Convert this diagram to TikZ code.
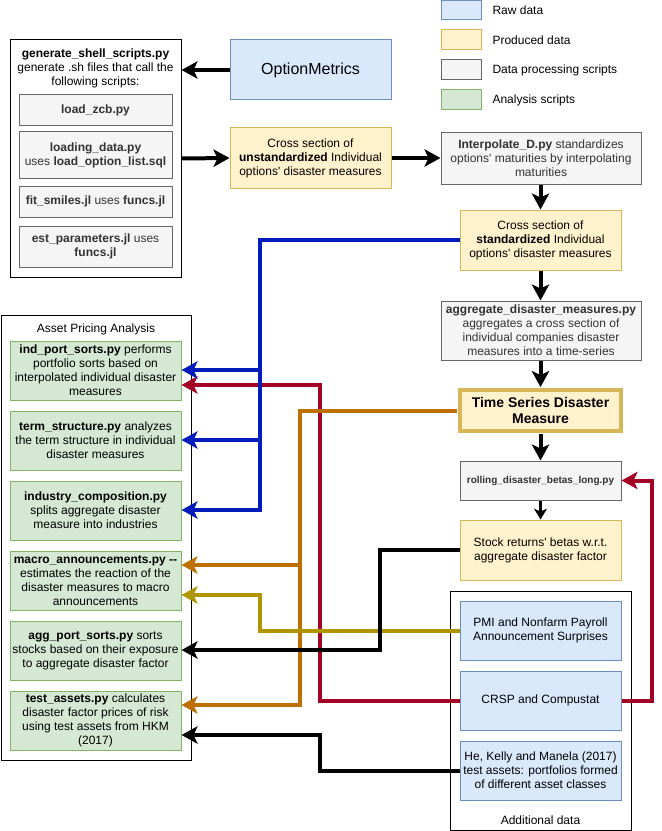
\documentclass[tikz,border=0pt]{standalone}
\usepackage{fontspec}
\newfontfamily\hv{Liberation Sans}
\usetikzlibrary{arrows.meta}
\definecolor{rawF}{HTML}{DAE8FC}\definecolor{rawD}{HTML}{6C8EBF}
\definecolor{proF}{HTML}{FFF2CC}\definecolor{proD}{HTML}{D6B656}
\definecolor{scrF}{HTML}{F5F5F5}\definecolor{scrD}{HTML}{666666}\definecolor{scrT}{HTML}{333333}
\definecolor{anaF}{HTML}{D5E8D4}\definecolor{anaD}{HTML}{82B366}
\definecolor{lblue}{HTML}{001DBC}\definecolor{lred}{HTML}{A20025}
\definecolor{lorange}{HTML}{BD7000}\definecolor{lolive}{HTML}{B09500}
\tikzset{
 base/.style={font=\hv\fontsize{9}{10.5}\selectfont, align=center, inner sep=0pt, line width=0.75pt},
 sz/.style 2 args={minimum width=#1*0.75pt, minimum height=#2*0.75pt},
 raw/.style={base, draw=rawD, fill=rawF},
 pro/.style={base, draw=proD, fill=proF},
 scr/.style={base, draw=scrD, fill=scrF, text=scrT},
 ana/.style={base, draw=anaD, fill=anaF},
 grp/.style={base, draw=black, fill=white},
 lab/.style={base},
 conn/.style={line width=3pt, -{Stealth[length=12pt,width=13pt,inset=3pt]}},
 thinconn/.style={line width=1.6pt, -{Stealth[length=8pt,width=9.5pt,inset=2pt]}},
}
\begin{document}
\begin{tikzpicture}[x=0.75pt,y=-0.75pt]
\useasboundingbox[fill=white] (0,0) rectangle (661,831);

% legend
\node[raw, sz={40}{19}] (lg1) at (461,10.5) {};
\node[pro, sz={40}{20}] (lg2) at (461,40) {};
\node[scr, sz={40}{20}] (lg3) at (461,70) {};
\node[ana, sz={40}{20}] (lg4) at (461,100) {};
\node[lab, anchor=west] (lt1) at (492,10.5) {Raw data};
\node[lab, anchor=west] (lt2) at (492,40) {Produced data};
\node[lab, anchor=west] (lt3) at (492,70) {Data processing scripts};
\node[lab, anchor=west] (lt4) at (492,100) {Analysis scripts};

% shell scripts group
\node[grp, sz={171}{237}] (gen) at (95.5,158.5) {};
\node[lab] (gent) at (95.5,68.5) {\textbf{generate\_shell\_scripts.py}\\generate .sh files that call the\\following scripts:};
\node[scr, sz={153}{31}] (zcb) at (95.5,110.5) {\textbf{load\_zcb.py}};
\node[scr, sz={153}{46}] (load) at (95.5,155) {\textbf{loading\_data.py}\\uses \textbf{load\_option\_list.sql}};
\node[scr, sz={153}{31}] (fit) at (95.5,201.5) {\textbf{fit\_smiles.jl} uses \textbf{funcs.jl}};
\node[scr, sz={153}{41}] (est) at (95.5,246.5) {\textbf{est\_parameters.jl} uses\\\textbf{funcs.jl}};

% main column
\node[raw, sz={161}{60}, font=\hv\fontsize{12}{14}\selectfont] (om) at (310.5,70) {OptionMetrics};
\node[pro, sz={161}{60}] (unstd) at (310.5,158) {Cross section of\\\textbf{unstandardized} Individual\\options' disaster measures};
\node[scr, sz={200}{51}] (interp) at (541,158.5) {\textbf{Interpolate\_D.py} standardizes\\options' maturities by interpolating\\maturities};
\node[pro, sz={161}{60}] (std) at (540.5,240) {Cross section of\\\textbf{standardized} Individual\\options' disaster measures};
\node[scr, sz={200}{59}] (agg) at (541,330.5) {\textbf{aggregate\_disaster\_measures.py}\\aggregates a cross section of\\individual companies disaster\\measures into a time-series};
\node[pro, sz={161}{41}, line width=2.6pt, font=\hv\bfseries\fontsize{10.5}{12}\selectfont] (ts) at (540.5,410.5) {Time Series Disaster\\Measure};
\node[scr, sz={161}{39}, font=\hv\bfseries\fontsize{7.5}{9}\selectfont] (roll) at (540.5,480.5) {rolling\_disaster\_betas\_long.py};
\node[pro, sz={161}{60}] (stock) at (540.5,550) {Stock returns' betas w.r.t.\\aggregate disaster factor};

% additional data group
\node[grp, sz={181}{239}] (add) at (540.5,710.5) {};
\node[lab] (addt) at (540.5,820) {Additional data};
\node[raw, sz={161}{59}] (pmi) at (540.5,630.5) {PMI and Nonfarm Payroll\\Announcement Surprises};
\node[raw, sz={161}{59}] (crsp) at (540.5,700.5) {CRSP and Compustat};
\node[raw, sz={161}{59}] (hkm) at (540.5,770.5) {He, Kelly and Manela (2017)\\test assets: portfolios formed\\of different asset classes};

% asset pricing group
\node[grp, sz={190}{445}] (ap) at (96,537.5) {};
\node[lab] (apt) at (96,329) {Asset Pricing Analysis};
\node[ana, sz={171}{59}] (ind) at (95.5,370.5) {\textbf{ind\_port\_sorts.py} performs\\portfolio sorts based on\\interpolated individual disaster\\measures};
\node[ana, sz={171}{59}] (term) at (95.5,440.5) {\textbf{term\_structure.py} analyzes\\the term structure in individual\\disaster measures};
\node[ana, sz={171}{59}] (icomp) at (95.5,510.5) {\textbf{industry\_composition.py}\\splits aggregate disaster\\measure into industries};
\node[ana, sz={171}{59}] (macro) at (95.5,580.5) {\textbf{macro\_announcements.py --}\\estimates the reaction of the\\disaster measures to macro\\announcements};
\node[ana, sz={171}{59}] (aport) at (95.5,650.5) {\textbf{agg\_port\_sorts.py} sorts\\stocks based on their exposure\\to aggregate disaster factor};
\node[ana, sz={171}{59}] (test) at (95.5,720.5) {\textbf{test\_assets.py} calculates\\disaster factor prices of risk\\using test assets from HKM\\(2017)};

% corner coordinates
\coordinate (b1) at (260,510);
\coordinate (b2) at (260,370);
\coordinate (b3) at (260,440);
\coordinate (r1) at (320,385);
\coordinate (r2) at (652,480.5);
\coordinate (o1) at (300,705);
\coordinate (o2) at (300,565);
\coordinate (y1) at (260,595);
\coordinate (k1) at (380,650);
\coordinate (k2) at (320,735);

% black main flow
\draw[conn] (om.west) -- (om.west -| gen.east);
\draw[conn] (gen.east) -- (unstd.west);
\draw[conn] (unstd.east) -- (unstd.east -| interp.west);
\draw[conn] (interp.south -| std.north) -- (std.north);
\draw[conn] (std.south) -- (std.south |- agg.north);
\draw[conn] (agg.south -| ts.north) -- ([yshift=0.9pt]ts.north);
\draw[conn] ([yshift=-0.9pt]ts.south) -- (roll.north);
\draw[thinconn] (roll.south) -- (stock.north);

% crimson
\draw[conn, lred] (crsp.west) -| (r1) -- (ind.east |- r1);
\draw[conn, lred] (crsp.east) -| (r2) -- (roll.east);

% orange
\draw[conn, lorange] ([xshift=-0.9pt]ts.west) -| (o1) -- (test.east |- o1);
\draw[conn, lorange] (o2) -- (macro.east |- o2);

% olive
\draw[conn, lolive] (pmi.west) -| (y1) -- (macro.east |- y1);

% black side
\draw[conn] (stock.west) -| (k1) -- (aport.east |- k1);
\draw[conn] (hkm.west) -| (k2) -- (test.east |- k2);

% blue
\draw[conn, lblue] (std.west) -| (b1) -- (icomp.east |- b1);
\draw[conn, lblue] (b2) -- (ind.east |- b2);
\draw[conn, lblue] (b3) -- (term.east |- b3);
\end{tikzpicture}
\end{document}
